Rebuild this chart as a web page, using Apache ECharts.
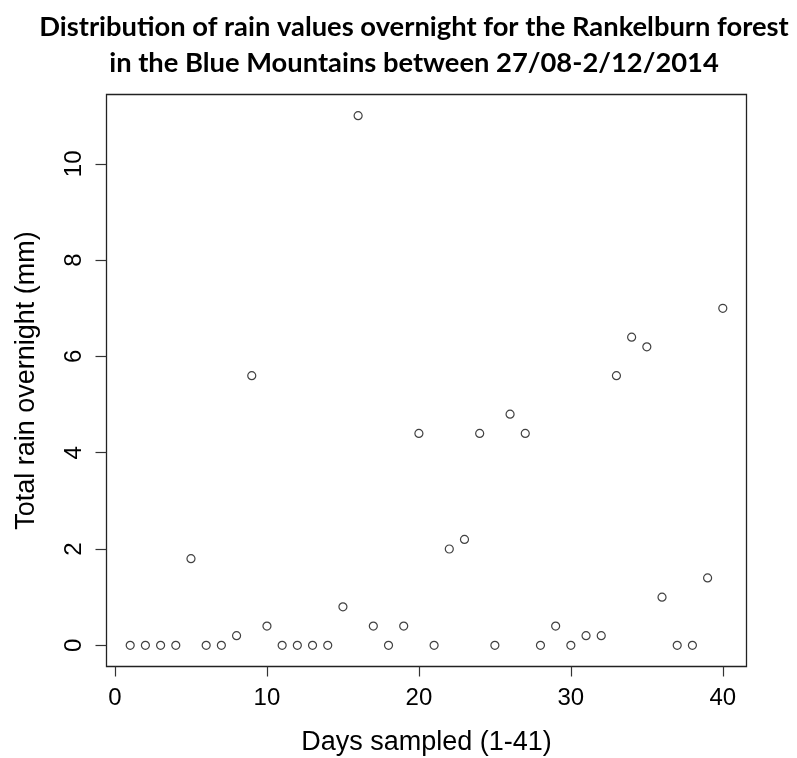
<!DOCTYPE html>
<html>
<head>
<meta charset="utf-8">
<script src="https://cdn.jsdelivr.net/npm/echarts@6/dist/echarts.min.js"></script>
<style>
  html, body { margin: 0; padding: 0; background: #fff; }
  #chart { width: 797px; height: 758px; }
</style>
</head>
<body>
<div id="chart"></div>
<script>
// Overnight rain totals, one reading per sampled day
const days = [1, 2, 3, 4, 5, 6, 7, 8, 9, 10,
              11, 12, 13, 14, 15, 16, 17, 18, 19, 20,
              21, 22, 23, 24, 25, 26, 27, 28, 29, 30,
              31, 32, 33, 34, 35, 36, 37, 38, 39, 40];
const rainMm = [0, 0, 0, 0, 1.8, 0, 0, 0.2, 5.6, 0.4,
                0, 0, 0, 0, 0.8, 11, 0.4, 0, 0.4, 4.4,
                0, 2.0, 2.2, 4.4, 0, 4.8, 4.4, 0, 0.4, 0,
                0.2, 0.2, 5.6, 6.4, 6.2, 1.0, 0, 0, 1.4, 7.0];
const xTicks = [0, 10, 20, 30, 40];
const yTicks = [0, 2, 4, 6, 8, 10];

const titleLines = [
  'Distribution of rain values overnight for the Rankelburn forest',
  'in the Blue Mountains between 27/08-2/12/2014'
];
const xTitle = 'Days sampled (1-41)';
const yTitle = 'Total rain overnight (mm)';

// Axis ranges padded by 4% of the data span on each side
function padded(vals) {
  const lo = Math.min(...vals), hi = Math.max(...vals);
  const pad = (hi - lo) * 0.04;
  return [lo - pad, hi + pad];
}
const [xMin, xMax] = padded(days);
const [yMin, yMax] = padded(rainMm);

// Size the bold title so the first line spans the intended width
const titleFamily = 'Lato';
function fitSize(text, family, weight, width) {
  const c = document.createElement('canvas').getContext('2d');
  c.font = weight + ' 100px ' + family;
  return 100 * width / c.measureText(text).width;
}

const chart = echarts.init(document.getElementById('chart'), null, { renderer: 'canvas' });

function draw() {
  const titleSize = fitSize(titleLines[0], titleFamily, 'bold', 750);
  const axisFont = 'Liberation Sans, Arial, sans-serif';

  chart.setOption({
    backgroundColor: '#ffffff',
    animation: false,
    graphic: [
      {
        type: 'text', x: 414, y: 27,
        style: { text: titleLines[0], font: 'bold ' + titleSize + 'px ' + titleFamily,
                 fill: '#000', align: 'center', verticalAlign: 'middle' }
      },
      {
        type: 'text', x: 414, y: 63,
        style: { text: titleLines[1], font: 'bold ' + titleSize + 'px ' + titleFamily,
                 fill: '#000', align: 'center', verticalAlign: 'middle' }
      }
    ],
    grid: {
      left: 106.5, top: 94.5, right: 50.5, bottom: 91.5,
      outerBoundsMode: 'none', containLabel: false,
      show: true, borderColor: '#222', borderWidth: 1.3, backgroundColor: 'transparent'
    },
    xAxis: {
      type: 'value', min: xMin, max: xMax, position: 'bottom',
      name: xTitle, nameLocation: 'middle', nameGap: 63,
      nameTextStyle: { fontFamily: axisFont, fontSize: 27, color: '#000' },
      axisLine: { show: false, onZero: false },
      splitLine: { show: false },
      axisTick: { show: true, inside: false, length: 10, customValues: xTicks,
                  lineStyle: { color: '#333', width: 1.2 } },
      axisLabel: { customValues: xTicks, margin: 20, fontFamily: axisFont, fontSize: 24,
                   color: '#000', showMinLabel: true, showMaxLabel: true }
    },
    yAxis: {
      type: 'value', min: yMin, max: yMax, position: 'left',
      name: yTitle, nameLocation: 'middle', nameGap: 66, nameRotate: 90,
      nameTextStyle: { fontFamily: axisFont, fontSize: 27, color: '#000' },
      axisLine: { show: false, onZero: false },
      splitLine: { show: false },
      axisTick: { show: true, inside: false, length: 11, customValues: yTicks,
                  lineStyle: { color: '#333', width: 1.2 } },
      axisLabel: { customValues: yTicks, rotate: 90, margin: 20, fontFamily: axisFont,
                   fontSize: 24, color: '#000' }
    },
    series: [{
      type: 'scatter',
      data: days.map((d, i) => [d, rainMm[i]]),
      symbol: 'circle',
      symbolSize: 8,
      itemStyle: { color: 'rgba(0,0,0,0)', borderColor: '#111', borderWidth: 1.2 },
      emphasis: { disabled: true }
    }]
  });
}

if (document.fonts && document.fonts.load) {
  document.fonts.load('bold 20px ' + titleFamily).then(draw, draw);
} else {
  draw();
}
</script>
</body>
</html>
